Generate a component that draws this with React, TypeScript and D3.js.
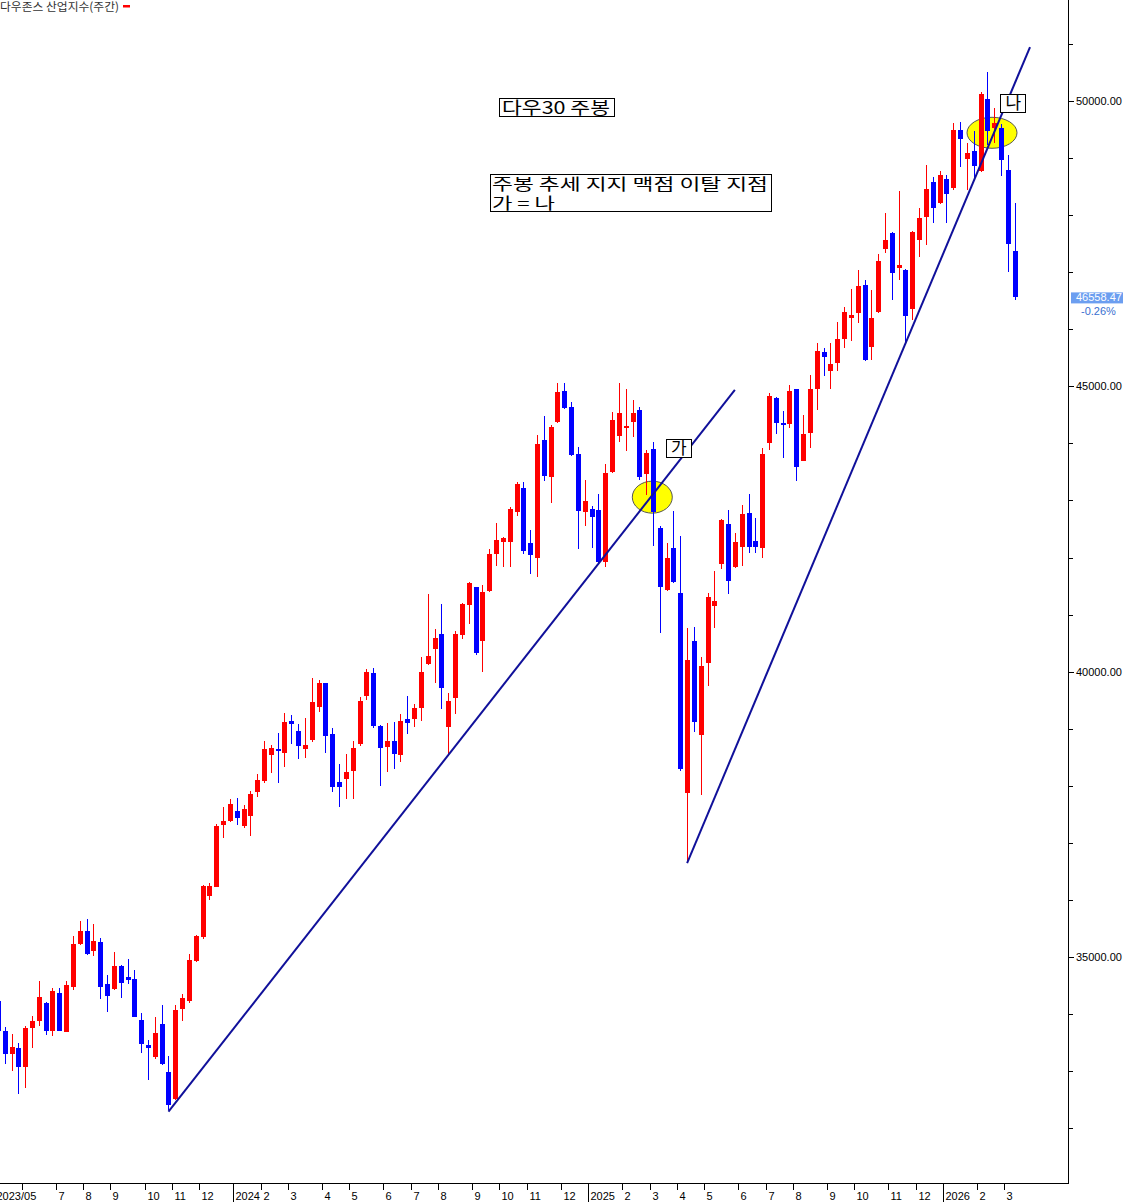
import React from 'react';
import * as d3 from 'd3';

// Weekly candles, first week ends Friday 2023-05-05
const firstWeek = new Date(2023, 4, 5);

const opens = [
  34230, 33706, 33303, 33413, 33081, 33764, 33887, 34192, 33706, 34367,
  33694, 34483, 35225, 35458, 35108, 35260, 34525, 34437, 34845, 34652,
  34617, 33899, 33461, 33239, 33829, 32987, 32510, 34092, 34232, 34923,
  35358, 36077, 36235, 37316, 37391, 37561, 37303, 37478, 37899, 38086,
  38542, 38647, 38572, 39143, 38962, 38647, 38805, 39388, 39798, 38910,
  38060, 38116, 38262, 38735, 39581, 39973, 39040, 38687, 38787, 38542,
  39173, 39173, 39371, 40131, 40399, 40662, 39038, 39546, 40644, 41170,
  41480, 40539, 41420, 42059, 42279, 42279, 42805, 43212, 42251, 41998,
  44061, 43418, 44371, 44919, 44634, 43807, 42805, 42846, 42835, 41929,
  43506, 44136, 44266, 44381, 44586, 43459, 43898, 42511, 41432, 42163,
  41374, 37871, 40539, 38893, 40159, 41158, 41892, 42589, 41831, 42192,
  42777, 42291, 42163, 44004, 44792, 44354, 44341, 44949, 43698, 44184,
  44949, 45598, 45270, 45415, 45831, 46198, 46291, 46780, 45694, 46298,
  47402, 47682, 47067, 47037, 46355, 47565, 47962, 48576, 48208, 48634,
  48470, 49492, 48984, 49129, 48774, 50035, 49522, 49522, 48791, 47372,
];
const highs = [
  34260, 33782, 33648, 33490, 33794, 33969, 34582, 34220, 34455, 34455,
  34582, 35371, 35634, 35669, 35581, 35330, 34688, 35080, 34863, 34968,
  34775, 34016, 33549, 33957, 34162, 33268, 34162, 34349, 35058, 35389,
  36264, 36294, 37333, 37626, 37766, 37783, 37666, 37916, 38204, 38787,
  38717, 38933, 39272, 39243, 39080, 39185, 39886, 39856, 39810, 39010,
  38384, 38559, 38793, 39563, 40043, 40061, 39060, 39097, 39115, 39255,
  39575, 39435, 40254, 41363, 40744, 41187, 39623, 40714, 41210, 41568,
  41490, 41520, 42151, 42612, 42366, 42892, 43330, 43330, 42484, 44148,
  44481, 44323, 45066, 45066, 44721, 43930, 43360, 42904, 43110, 43635,
  44557, 45059, 44954, 44761, 44634, 43885, 44031, 42551, 42260, 42822,
  42378, 40761, 40779, 40264, 41374, 41757, 42681, 42826, 42436, 42922,
  43115, 42689, 43923, 44879, 44820, 44569, 45024, 44960, 44499, 45199,
  45755, 45668, 45755, 46123, 46396, 46701, 47039, 46864, 46689, 47314,
  48032, 47700, 48423, 47055, 47728, 48120, 48879, 48674, 48774, 48704,
  49609, 49627, 49270, 49474, 50153, 50503, 49882, 49597, 49054, 48208,
];
const lows = [
  33240, 33123, 33011, 32597, 32712, 33404, 33794, 33636, 33607, 33700,
  33680, 34413, 35214, 35040, 35020, 34267, 34034, 34420, 34290, 34525,
  33940, 33316, 32848, 33220, 33110, 32322, 32500, 33882, 34192, 34912,
  35313, 36002, 36220, 37083, 37374, 37316, 37258, 37128, 37811, 38057,
  38221, 38046, 38337, 38735, 38467, 38484, 38775, 39290, 38572, 37888,
  37626, 37766, 37766, 38700, 39506, 39020, 38004, 38249, 38296, 38414,
  38910, 39038, 39143, 40120, 39809, 39348, 38530, 39255, 40574, 40837,
  40294, 40001, 41397, 41854, 41841, 41831, 42735, 42054, 41716, 41665,
  43348, 42952, 44360, 44599, 43781, 42145, 42549, 42174, 41912, 41841,
  43490, 44031, 43873, 44119, 43360, 43097, 42209, 40683, 41410, 41550,
  38267, 36645, 38950, 37841, 39752, 40761, 41792, 41363, 41820, 41854,
  42087, 42087, 41988, 43885, 44166, 43750, 44276, 43348, 43690, 43922,
  44586, 45188, 44949, 45270, 45668, 45801, 46105, 45450, 45462, 46290,
  47343, 46514, 46864, 45735, 46163, 47273, 47477, 47857, 48200, 47857,
  48441, 48849, 48441, 48616, 48761, 49229, 49259, 48686, 47009, 46514,
];
const closes = [
  33700, 33298, 33430, 33081, 33764, 33882, 34307, 33712, 34407, 33712,
  34512, 35231, 35458, 35052, 35283, 34483, 34325, 34835, 34553, 34599,
  33957, 33479, 33397, 33676, 33123, 32398, 34075, 34290, 34953, 35376,
  36247, 36247, 37303, 37386, 37683, 37444, 37596, 37859, 38104, 38647,
  38659, 38617, 39125, 39080, 38700, 38717, 39476, 39798, 38880, 37976,
  37976, 38244, 38659, 39493, 39991, 39055, 38670, 38787, 38559, 39138,
  39108, 39371, 40001, 40282, 40597, 39721, 39488, 40662, 41182, 41550,
  40334, 41403, 42063, 42310, 42349, 42852, 43290, 42112, 42042, 43991,
  43435, 44294, 44896, 44627, 43798, 42822, 42992, 42717, 41929, 43477,
  44411, 44539, 44306, 44539, 43418, 43838, 42805, 41489, 41985, 41568,
  38296, 40206, 39125, 40106, 41315, 41240, 42651, 41582, 42279, 42765,
  42192, 42192, 43807, 44832, 44354, 44323, 44914, 43595, 44166, 44949,
  45621, 45521, 45392, 45825, 46298, 46251, 46758, 45462, 46198, 47202,
  47565, 46981, 47125, 46239, 47711, 47945, 48458, 48120, 48704, 48366,
  49492, 49334, 49084, 48866, 50118, 49480, 49609, 48966, 47489, 46558.47,
];

const priceLabels = [35000, 40000, 45000, 50000];
const lastChange = '-0.26%';
const chartTitle = '다우존스 산업지수(주간)';

// Trend lines anchored at [week index, price]
const trendLines: [number, number][][] = [
  [[25, 32292], [108, 44937]],
  [[101, 36645], [151.25, 50946]],
];
// Highlight ellipses [week index, price]
const marks: [number, number][] = [[95.9, 43058], [145.68, 49443]];
const markLabels: { at: [number, number]; text: string }[] = [
  { at: [99.8, 43915], text: '가' },
  { at: [148.8, 49960], text: '나' },
];

const RED = '#ff0000';
const BLUE = '#0000ff';
const LINE = '#10109a';
const KR = "'Noto Sans CJK KR', sans-serif";
const LAT = "'Liberation Sans', Arial, sans-serif";

export default function App() {
  const W = 1123;
  const H = 1202;
  const axisX = 1068.5;
  const axisY = 1183.5;
  const n = closes.length;
  const step = 6.824;
  const x = d3.scaleLinear().domain([0, n - 1]).range([-2.12, -2.12 + step * (n - 1)]);
  const y = d3.scaleLinear().domain([35000, 50000]).range([957, 101]);
  const dates = d3.range(n).map((i) => d3.timeDay.offset(firstWeek, 7 * i));

  // month ticks
  const ticks: { xp: number; label: string; year: boolean; show: boolean }[] = [];
  let lastEnd = -Infinity;
  dates.forEach((d, i) => {
    if (i === 0 || d.getMonth() !== dates[i - 1].getMonth()) {
      const xp = Math.round(x(i) - step / 2) + 0.5;
      let label = String(d.getMonth() + 1);
      let year = false;
      if (i === 0) label = d3.timeFormat('%Y/%m')(d);
      else if (d.getMonth() === 0) {
        label = String(d.getFullYear());
        year = true;
      }
      const start = xp + 2;
      const show = start > lastEnd + 3;
      if (show) lastEnd = start + label.length * 6.2;
      ticks.push({ xp, label, year, show });
    }
  });

  const minorTicks = d3.range(32000, 52000, 1000).filter((v) => y(v) > 0 && y(v) < axisY);
  const line = d3
    .line<[number, number]>()
    .x((d) => x(d[0]))
    .y((d) => y(d[1]));
  const lastClose = closes[n - 1];
  const yLast = y(lastClose);

  return (
    <div style={{ position: 'absolute', left: 0, top: 0 }}>
      <svg width={W} height={H} style={{ display: 'block', background: '#fff' }}>
        <rect x={0} y={0} width={W} height={H} fill="#fff" />
        {/* title */}
        <text x={0} y={10.5} fontFamily={KR} fontSize={11.5} fill="#333" textLength={119} lengthAdjust="spacingAndGlyphs">
          {chartTitle}
        </text>
        <rect x={123} y={5} width={7} height={2.5} fill={RED} />

        {/* ellipses */}
        {marks.map((m, i) => (
          <ellipse
            key={i}
            cx={x(m[0])}
            cy={y(m[1])}
            rx={i === 0 ? 20 : 25}
            ry={i === 0 ? 16 : 15.5}
            fill="#ffff00"
            stroke="#555"
            strokeWidth={1}
          />
        ))}

        {/* candles */}
        <g shapeRendering="crispEdges">
          {closes.map((c, i) => {
            const o = opens[i];
            const up = c >= o;
            const col = up ? RED : BLUE;
            const cx = Math.round(x(i)) + 0.5;
            const top = y(Math.max(o, c));
            const bot = y(Math.min(o, c));
            return (
              <g key={i}>
                <line x1={cx} x2={cx} y1={y(highs[i])} y2={y(lows[i])} stroke={col} strokeWidth={1} />
                <rect x={cx - 2.5} y={top} width={5} height={Math.max(1.5, bot - top)} fill={col} />
              </g>
            );
          })}
        </g>

        {/* trend lines */}
        {trendLines.map((t, i) => (
          <path key={i} d={line(t) || ''} stroke={LINE} strokeWidth={2} fill="none" />
        ))}

        {/* marker labels */}
        {markLabels.map((m, i) => (
          <g key={i}>
            <rect
              x={Math.round(x(m.at[0]) - 13) + 0.5}
              y={Math.round(y(m.at[1]) - 9) + 0.5}
              width={25}
              height={18}
              fill="#fff"
              stroke="#000"
            />
            <text x={x(m.at[0])} y={y(m.at[1]) + 6} textAnchor="middle" fontFamily={KR} fontSize={17} fill="#000">
              {m.text}
            </text>
          </g>
        ))}

        {/* text boxes */}
        <rect x={499.5} y={98.5} width={115} height={18} fill="#fff" stroke="#000" />
        <text x={502} y={114} fontFamily={KR} fontSize={17} textLength={108} lengthAdjust="spacingAndGlyphs">
          다우30 주봉
        </text>
        <rect x={490.5} y={174.5} width={281} height={37} fill="#fff" stroke="#000" />
        <text x={492} y={190} fontFamily={KR} fontSize={16} textLength={276} lengthAdjust="spacingAndGlyphs">
          주봉 추세 지지 맥점 이탈 지점
        </text>
        <text x={492} y={208.5} fontFamily={KR} fontSize={16} textLength={63} lengthAdjust="spacingAndGlyphs">
          가 = 나
        </text>

        {/* axes */}
        <g shapeRendering="crispEdges">
          <line x1={axisX} x2={axisX} y1={0} y2={axisY} stroke="#000" />
          <line x1={0} x2={axisX} y1={axisY} y2={axisY} stroke="#000" />
          {minorTicks.map((v) => (
            <line
              key={v}
              x1={axisX}
              x2={axisX + (v % 5000 === 0 ? 5 : 4)}
              y1={Math.round(y(v)) + 0.5}
              y2={Math.round(y(v)) + 0.5}
              stroke="#000"
            />
          ))}
          {ticks.map((t, i) => (
            <line key={i} x1={t.xp} x2={t.xp} y1={axisY} y2={t.year || i === 0 ? H : axisY + 6} stroke="#000" />
          ))}
        </g>
        {priceLabels.map((v) => (
          <text key={v} x={1076} y={y(v) + 4} fontFamily={LAT} fontSize={11} fill="#000">
            {d3.format('.2f')(v)}
          </text>
        ))}
        {ticks
          .filter((t) => t.show)
          .map((t, i) => (
            <text key={i} x={t.xp + 2} y={1200} fontFamily={LAT} fontSize={11} fill="#000">
              {t.label}
            </text>
          ))}

        {/* last price */}
        <rect x={1071} y={yLast - 5} width={52} height={11} fill="#6c9ef0" />
        <text x={1076} y={yLast + 4} fontFamily={LAT} fontSize={11} fill="#fff">
          {d3.format('.2f')(lastClose)}
        </text>
        <text x={1081} y={yLast + 18} fontFamily={LAT} fontSize={11} fill="#3a6fd0">
          {lastChange}
        </text>
      </svg>
    </div>
  );
}
